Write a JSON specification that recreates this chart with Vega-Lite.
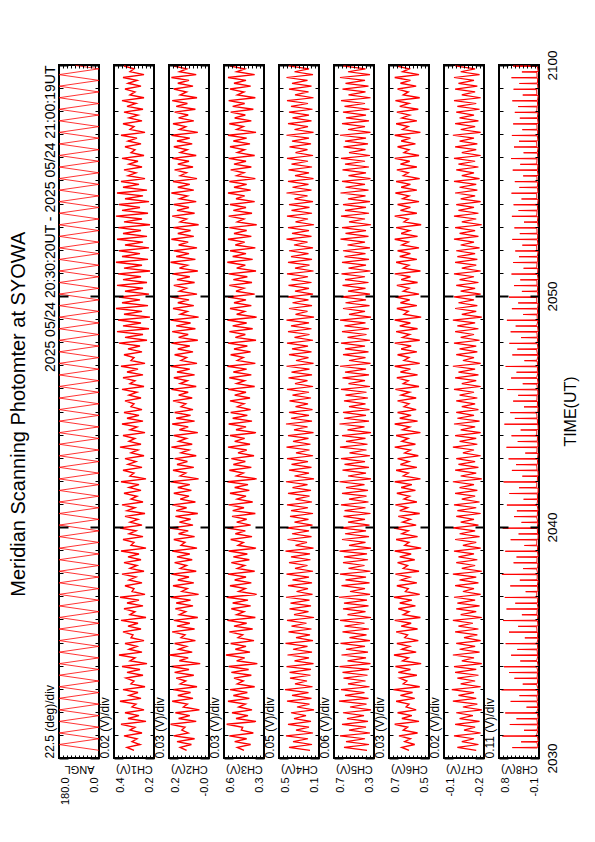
{
"$schema":"https://vega.github.io/schema/vega-lite/v6.json",
"background":"white",
"padding":{"left":8,"top":48,"right":5,"bottom":5},
"title":{"text":"Meridian Scanning Photomter at SYOWA","orient":"left","anchor":"middle","fontSize":20,"fontWeight":"normal","font":"Liberation Sans","color":"black","offset":13,"dx":13},
"config":{"view":{"stroke":"black","strokeWidth":2},"font":"Liberation Sans","axis":{"grid":false,"domain":false,"tickColor":"black","labelColor":"black","titleColor":"black","titleFontWeight":"normal","labelFont":"Liberation Sans","titleFont":"Liberation Sans"}},
"datasets":{
"ang":[{"t":20,"v":0},{"t":35,"v":180},{"t":50,"v":0},{"t":65,"v":180},{"t":80,"v":0},{"t":95,"v":180},{"t":110,"v":0},{"t":125,"v":180},{"t":140,"v":0},{"t":155,"v":180},{"t":170,"v":0},{"t":185,"v":180},{"t":200,"v":0},{"t":215,"v":180},{"t":230,"v":0},{"t":245,"v":180},{"t":260,"v":0},{"t":275,"v":180},{"t":290,"v":0},{"t":305,"v":180},{"t":320,"v":0},{"t":335,"v":180},{"t":350,"v":0},{"t":365,"v":180},{"t":380,"v":0},{"t":395,"v":180},{"t":410,"v":0},{"t":425,"v":180},{"t":440,"v":0},{"t":455,"v":180},{"t":470,"v":0},{"t":485,"v":180},{"t":500,"v":0},{"t":515,"v":180},{"t":530,"v":0},{"t":545,"v":180},{"t":560,"v":0},{"t":575,"v":180},{"t":590,"v":0},{"t":605,"v":180},{"t":620,"v":0},{"t":635,"v":180},{"t":650,"v":0},{"t":665,"v":180},{"t":680,"v":0},{"t":695,"v":180},{"t":710,"v":0},{"t":725,"v":180},{"t":740,"v":0},{"t":755,"v":180},{"t":770,"v":0},{"t":785,"v":180},{"t":800,"v":0},{"t":815,"v":180},{"t":830,"v":0},{"t":845,"v":180},{"t":860,"v":0},{"t":875,"v":180},{"t":890,"v":0},{"t":905,"v":180},{"t":920,"v":0},{"t":935,"v":180},{"t":950,"v":0},{"t":965,"v":180},{"t":980,"v":0},{"t":995,"v":180},{"t":1010,"v":0},{"t":1025,"v":180},{"t":1040,"v":0},{"t":1055,"v":180},{"t":1070,"v":0},{"t":1085,"v":180},{"t":1100,"v":0},{"t":1115,"v":180},{"t":1130,"v":0},{"t":1145,"v":180},{"t":1160,"v":0},{"t":1175,"v":180},{"t":1190,"v":0},{"t":1205,"v":180},{"t":1220,"v":0},{"t":1235,"v":180},{"t":1250,"v":0},{"t":1265,"v":180},{"t":1280,"v":0},{"t":1295,"v":180},{"t":1310,"v":0},{"t":1325,"v":180},{"t":1340,"v":0},{"t":1355,"v":180},{"t":1370,"v":0},{"t":1385,"v":180},{"t":1400,"v":0},{"t":1415,"v":180},{"t":1430,"v":0},{"t":1445,"v":180},{"t":1460,"v":0},{"t":1475,"v":180},{"t":1490,"v":0},{"t":1505,"v":180},{"t":1520,"v":0},{"t":1535,"v":180},{"t":1550,"v":0},{"t":1565,"v":180},{"t":1580,"v":0},{"t":1595,"v":180},{"t":1610,"v":0},{"t":1625,"v":180},{"t":1640,"v":0},{"t":1655,"v":180},{"t":1670,"v":0},{"t":1685,"v":180},{"t":1700,"v":0},{"t":1715,"v":180},{"t":1730,"v":0},{"t":1745,"v":180},{"t":1760,"v":0},{"t":1775,"v":180},{"t":1790,"v":0},{"t":1799,"v":108}],
"c8":[{"t":26,"h":-80},{"t":27,"h":520},{"t":28,"h":-95},{"t":41,"h":-70},{"t":42,"h":310},{"t":43,"h":-100},{"t":56,"h":-85},{"t":57,"h":760},{"t":58,"h":-60},{"t":71,"h":-90},{"t":72,"h":240},{"t":73,"h":-75},{"t":86,"h":-95},{"t":87,"h":580},{"t":88,"h":-85},{"t":101,"h":-70},{"t":102,"h":420},{"t":103,"h":-100},{"t":116,"h":-80},{"t":117,"h":690},{"t":118,"h":-65},{"t":131,"h":-100},{"t":132,"h":180},{"t":133,"h":-90},{"t":146,"h":-75},{"t":147,"h":560},{"t":148,"h":-85},{"t":161,"h":-70},{"t":162,"h":350},{"t":163,"h":-95},{"t":176,"h":-80},{"t":177,"h":780},{"t":178,"h":-100},{"t":191,"h":-65},{"t":192,"h":270},{"t":193,"h":-80},{"t":206,"h":-90},{"t":207,"h":470},{"t":208,"h":-75},{"t":221,"h":-85},{"t":222,"h":600},{"t":223,"h":-95},{"t":236,"h":-70},{"t":237,"h":720},{"t":238,"h":-100},{"t":251,"h":-80},{"t":252,"h":330},{"t":253,"h":-65},{"t":266,"h":-95},{"t":267,"h":550},{"t":268,"h":-85},{"t":281,"h":-75},{"t":282,"h":400},{"t":283,"h":-90},{"t":296,"h":-80},{"t":297,"h":680},{"t":298,"h":-70},{"t":311,"h":-100},{"t":312,"h":220},{"t":313,"h":-85},{"t":326,"h":-90},{"t":327,"h":600},{"t":328,"h":-75},{"t":341,"h":-65},{"t":342,"h":380},{"t":343,"h":-95},{"t":356,"h":-85},{"t":357,"h":740},{"t":358,"h":-80},{"t":371,"h":-95},{"t":372,"h":290},{"t":373,"h":-70},{"t":386,"h":-80},{"t":387,"h":660},{"t":388,"h":-100},{"t":401,"h":-75},{"t":402,"h":450},{"t":403,"h":-85},{"t":416,"h":-90},{"t":417,"h":700},{"t":418,"h":-65},{"t":431,"h":-70},{"t":432,"h":200},{"t":433,"h":-95},{"t":446,"h":-85},{"t":447,"h":570},{"t":448,"h":-80},{"t":461,"h":-100},{"t":462,"h":340},{"t":463,"h":-75},{"t":476,"h":-80},{"t":477,"h":770},{"t":478,"h":-90},{"t":491,"h":-65},{"t":492,"h":260},{"t":493,"h":-85},{"t":506,"h":-95},{"t":507,"h":490},{"t":508,"h":-70},{"t":521,"h":-75},{"t":522,"h":420},{"t":523,"h":-100},{"t":536,"h":-85},{"t":537,"h":690},{"t":538,"h":-80},{"t":551,"h":-90},{"t":552,"h":230},{"t":553,"h":-65},{"t":566,"h":-70},{"t":567,"h":560},{"t":568,"h":-95},{"t":581,"h":-100},{"t":582,"h":370},{"t":583,"h":-85},{"t":596,"h":-80},{"t":597,"h":750},{"t":598,"h":-75},{"t":611,"h":-95},{"t":612,"h":300},{"t":613,"h":-90},{"t":626,"h":-65},{"t":627,"h":480},{"t":628,"h":-80},{"t":641,"h":-85},{"t":642,"h":410},{"t":643,"h":-100},{"t":656,"h":-75},{"t":657,"h":650},{"t":658,"h":-70},{"t":671,"h":-90},{"t":672,"h":250},{"t":673,"h":-85},{"t":686,"h":-80},{"t":687,"h":590},{"t":688,"h":-95},{"t":701,"h":-100},{"t":702,"h":360},{"t":703,"h":-65},{"t":716,"h":-70},{"t":717,"h":730},{"t":718,"h":-80},{"t":731,"h":-85},{"t":732,"h":280},{"t":733,"h":-100},{"t":746,"h":-95},{"t":747,"h":530},{"t":748,"h":-75},{"t":761,"h":-65},{"t":762,"h":430},{"t":763,"h":-90},{"t":776,"h":-80},{"t":777,"h":610},{"t":778,"h":-85},{"t":791,"h":-100},{"t":792,"h":210},{"t":793,"h":-70},{"t":806,"h":-75},{"t":807,"h":660},{"t":808,"h":-95},{"t":821,"h":-90},{"t":822,"h":390},{"t":823,"h":-80},{"t":836,"h":-85},{"t":837,"h":540},{"t":838,"h":-65},{"t":851,"h":-70},{"t":852,"h":320},{"t":853,"h":-100},{"t":866,"h":-95},{"t":867,"h":710},{"t":868,"h":-85},{"t":881,"h":-80},{"t":882,"h":460},{"t":883,"h":-75},{"t":896,"h":-65},{"t":897,"h":570},{"t":898,"h":-90},{"t":911,"h":-100},{"t":912,"h":240},{"t":913,"h":-80},{"t":926,"h":-85},{"t":927,"h":500},{"t":928,"h":-70},{"t":941,"h":-75},{"t":942,"h":380},{"t":943,"h":-95},{"t":956,"h":-90},{"t":957,"h":640},{"t":958,"h":-85},{"t":971,"h":-70},{"t":972,"h":270},{"t":973,"h":-100},{"t":986,"h":-80},{"t":987,"h":550},{"t":988,"h":-65},{"t":1001,"h":-95},{"t":1002,"h":420},{"t":1003,"h":-80},{"t":1016,"h":-85},{"t":1017,"h":680},{"t":1018,"h":-90},{"t":1031,"h":-75},{"t":1032,"h":230},{"t":1033,"h":-70},{"t":1046,"h":-100},{"t":1047,"h":520},{"t":1048,"h":-85},{"t":1061,"h":-65},{"t":1062,"h":400},{"t":1063,"h":-95},{"t":1076,"h":-80},{"t":1077,"h":590},{"t":1078,"h":-75},{"t":1091,"h":-90},{"t":1092,"h":310},{"t":1093,"h":-80},{"t":1106,"h":-70},{"t":1107,"h":560},{"t":1108,"h":-100},{"t":1121,"h":-85},{"t":1122,"h":440},{"t":1123,"h":-65},{"t":1136,"h":-95},{"t":1137,"h":650},{"t":1138,"h":-80},{"t":1151,"h":-75},{"t":1152,"h":260},{"t":1153,"h":-90},{"t":1166,"h":-80},{"t":1167,"h":530},{"t":1168,"h":-85},{"t":1181,"h":-100},{"t":1182,"h":380},{"t":1183,"h":-70},{"t":1196,"h":-65},{"t":1197,"h":600},{"t":1198,"h":-95},{"t":1211,"h":-85},{"t":1212,"h":290},{"t":1213,"h":-80},{"t":1226,"h":-90},{"t":1227,"h":480},{"t":1228,"h":-75},{"t":1241,"h":-70},{"t":1242,"h":330},{"t":1243,"h":-100},{"t":1256,"h":-80},{"t":1257,"h":540},{"t":1258,"h":-85},{"t":1271,"h":-95},{"t":1272,"h":250},{"t":1273,"h":-65},{"t":1286,"h":-75},{"t":1287,"h":500},{"t":1288,"h":-90},{"t":1301,"h":-85},{"t":1302,"h":360},{"t":1303,"h":-80},{"t":1316,"h":-100},{"t":1317,"h":450},{"t":1318,"h":-70},{"t":1331,"h":-65},{"t":1332,"h":280},{"t":1333,"h":-95},{"t":1346,"h":-80},{"t":1347,"h":520},{"t":1348,"h":-85},{"t":1361,"h":-90},{"t":1362,"h":340},{"t":1363,"h":-75},{"t":1376,"h":-70},{"t":1377,"h":470},{"t":1378,"h":-100},{"t":1391,"h":-85},{"t":1392,"h":240},{"t":1393,"h":-80},{"t":1406,"h":-95},{"t":1407,"h":530},{"t":1408,"h":-65},{"t":1421,"h":-75},{"t":1422,"h":370},{"t":1423,"h":-90},{"t":1436,"h":-80},{"t":1437,"h":490},{"t":1438,"h":-85},{"t":1451,"h":-100},{"t":1452,"h":300},{"t":1453,"h":-70},{"t":1466,"h":-65},{"t":1467,"h":540},{"t":1468,"h":-95},{"t":1481,"h":-85},{"t":1482,"h":350},{"t":1483,"h":-80},{"t":1496,"h":-90},{"t":1497,"h":460},{"t":1498,"h":-75},{"t":1511,"h":-70},{"t":1512,"h":260},{"t":1513,"h":-100},{"t":1526,"h":-80},{"t":1527,"h":510},{"t":1528,"h":-85},{"t":1541,"h":-95},{"t":1542,"h":330},{"t":1543,"h":-65},{"t":1556,"h":-75},{"t":1557,"h":550},{"t":1558,"h":-90},{"t":1571,"h":-85},{"t":1572,"h":250},{"t":1573,"h":-80},{"t":1586,"h":-100},{"t":1587,"h":480},{"t":1588,"h":-70},{"t":1601,"h":-65},{"t":1602,"h":360},{"t":1603,"h":-95},{"t":1616,"h":-80},{"t":1617,"h":530},{"t":1618,"h":-85},{"t":1631,"h":-90},{"t":1632,"h":280},{"t":1633,"h":-75},{"t":1646,"h":-70},{"t":1647,"h":500},{"t":1648,"h":-100},{"t":1661,"h":-85},{"t":1662,"h":340},{"t":1663,"h":-80},{"t":1676,"h":-95},{"t":1677,"h":460},{"t":1678,"h":-65},{"t":1691,"h":-75},{"t":1692,"h":380},{"t":1693,"h":-90},{"t":1706,"h":-80},{"t":1707,"h":520},{"t":1708,"h":-85},{"t":1721,"h":-100},{"t":1722,"h":270},{"t":1723,"h":-70},{"t":1736,"h":-65},{"t":1737,"h":490},{"t":1738,"h":-95},{"t":1751,"h":-85},{"t":1752,"h":350},{"t":1753,"h":-80},{"t":1766,"h":-90},{"t":1767,"h":540},{"t":1768,"h":-75},{"t":1781,"h":-70},{"t":1782,"h":290},{"t":1783,"h":-100},{"t":1796,"h":-80},{"t":1797,"h":500},{"t":1798,"h":-85}],
"ch":[
{"t":20,"a":300,"b":120,"c":450,"d":190,"e":370,"f":600,"g":-205},
{"t":27.5,"a":335,"b":160,"c":500,"d":400,"e":600,"f":650,"g":-120},
{"t":35,"a":270,"b":90,"c":400,"d":170,"e":350,"f":560,"g":-215},
{"t":42.5,"a":310,"b":180,"c":520,"d":360,"e":580,"f":630,"g":-140},
{"t":50,"a":285,"b":70,"c":430,"d":210,"e":390,"f":590,"g":-195},
{"t":57.5,"a":350,"b":200,"c":560,"d":430,"e":640,"f":670,"g":-105},
{"t":65,"a":260,"b":110,"c":380,"d":160,"e":340,"f":540,"g":-225},
{"t":72.5,"a":320,"b":150,"c":470,"d":330,"e":550,"f":640,"g":-150},
{"t":80,"a":295,"b":130,"c":460,"d":200,"e":380,"f":610,"g":-200},
{"t":87.5,"a":365,"b":220,"c":580,"d":410,"e":620,"f":700,"g":-110},
{"t":95,"a":240,"b":60,"c":360,"d":180,"e":360,"f":530,"g":-220},
{"t":102.5,"a":330,"b":170,"c":510,"d":350,"e":570,"f":650,"g":-130},
{"t":110,"a":275,"b":100,"c":420,"d":230,"e":400,"f":580,"g":-190},
{"t":117.5,"a":345,"b":190,"c":540,"d":380,"e":610,"f":680,"g":-115},
{"t":125,"a":250,"b":40,"c":390,"d":150,"e":330,"f":550,"g":-230},
{"t":132.5,"a":310,"b":140,"c":490,"d":320,"e":540,"f":620,"g":-145},
{"t":140,"a":290,"b":115,"c":440,"d":195,"e":375,"f":600,"g":-210},
{"t":147.5,"a":370,"b":210,"c":570,"d":420,"e":650,"f":690,"g":-100},
{"t":155,"a":265,"b":80,"c":410,"d":175,"e":355,"f":560,"g":-205},
{"t":162.5,"a":325,"b":175,"c":530,"d":370,"e":590,"f":660,"g":-125},
{"t":170,"a":280,"b":95,"c":425,"d":205,"e":395,"f":575,"g":-195},
{"t":177.5,"a":355,"b":205,"c":555,"d":440,"e":630,"f":710,"g":-95},
{"t":185,"a":245,"b":55,"c":370,"d":165,"e":345,"f":525,"g":-225},
{"t":192.5,"a":315,"b":160,"c":500,"d":340,"e":560,"f":640,"g":-135},
{"t":200,"a":300,"b":125,"c":455,"d":220,"e":385,"f":615,"g":-200},
{"t":207.5,"a":340,"b":185,"c":525,"d":390,"e":605,"f":665,"g":-120},
{"t":215,"a":255,"b":75,"c":395,"d":185,"e":365,"f":545,"g":-215},
{"t":222.5,"a":335,"b":195,"c":545,"d":395,"e":615,"f":675,"g":-110},
{"t":230,"a":270,"b":105,"c":415,"d":180,"e":350,"f":590,"g":-205},
{"t":237.5,"a":360,"b":215,"c":565,"d":425,"e":645,"f":695,"g":-105},
{"t":245,"a":235,"b":35,"c":350,"d":155,"e":335,"f":515,"g":-230},
{"t":252.5,"a":320,"b":165,"c":505,"d":345,"e":565,"f":645,"g":-140},
{"t":260,"a":295,"b":110,"c":445,"d":200,"e":380,"f":605,"g":-195},
{"t":267.5,"a":375,"b":225,"c":585,"d":415,"e":625,"f":705,"g":-100},
{"t":275,"a":260,"b":85,"c":405,"d":170,"e":360,"f":550,"g":-220},
{"t":282.5,"a":325,"b":170,"c":515,"d":360,"e":580,"f":650,"g":-130},
{"t":290,"a":285,"b":120,"c":435,"d":215,"e":390,"f":595,"g":-200},
{"t":297.5,"a":345,"b":195,"c":550,"d":435,"e":635,"f":685,"g":-115},
{"t":305,"a":250,"b":65,"c":375,"d":160,"e":340,"f":535,"g":-225},
{"t":312.5,"a":315,"b":155,"c":495,"d":330,"e":545,"f":630,"g":-150},
{"t":320,"a":305,"b":130,"c":460,"d":190,"e":375,"f":610,"g":-210},
{"t":327.5,"a":355,"b":210,"c":560,"d":405,"e":615,"f":690,"g":-110},
{"t":335,"a":265,"b":70,"c":385,"d":175,"e":350,"f":540,"g":-215},
{"t":342.5,"a":330,"b":180,"c":525,"d":375,"e":595,"f":655,"g":-125},
{"t":350,"a":280,"b":100,"c":430,"d":225,"e":395,"f":585,"g":-190},
{"t":357.5,"a":365,"b":200,"c":575,"d":420,"e":640,"f":700,"g":-100},
{"t":365,"a":240,"b":50,"c":365,"d":150,"e":330,"f":520,"g":-230},
{"t":372.5,"a":320,"b":165,"c":505,"d":350,"e":565,"f":640,"g":-135},
{"t":380,"a":295,"b":125,"c":450,"d":205,"e":385,"f":600,"g":-205},
{"t":387.5,"a":350,"b":190,"c":545,"d":395,"e":610,"f":675,"g":-115},
{"t":395,"a":255,"b":80,"c":400,"d":180,"e":355,"f":555,"g":-220},
{"t":402.5,"a":335,"b":185,"c":535,"d":385,"e":600,"f":665,"g":-120},
{"t":410,"a":275,"b":95,"c":420,"d":195,"e":370,"f":580,"g":-200},
{"t":417.5,"a":370,"b":220,"c":580,"d":430,"e":650,"f":705,"g":-105},
{"t":425,"a":245,"b":45,"c":355,"d":165,"e":340,"f":525,"g":-225},
{"t":432.5,"a":310,"b":150,"c":490,"d":325,"e":540,"f":625,"g":-145},
{"t":440,"a":300,"b":115,"c":440,"d":210,"e":390,"f":605,"g":-195},
{"t":447.5,"a":345,"b":205,"c":555,"d":410,"e":625,"f":685,"g":-110},
{"t":455,"a":260,"b":75,"c":395,"d":170,"e":345,"f":545,"g":-215},
{"t":462.5,"a":325,"b":175,"c":520,"d":365,"e":585,"f":655,"g":-130},
{"t":470,"a":290,"b":105,"c":435,"d":200,"e":380,"f":595,"g":-205},
{"t":477.5,"a":360,"b":215,"c":570,"d":425,"e":640,"f":695,"g":-100},
{"t":485,"a":250,"b":60,"c":370,"d":160,"e":335,"f":530,"g":-230},
{"t":492.5,"a":320,"b":160,"c":500,"d":340,"e":555,"f":640,"g":-140},
{"t":500,"a":285,"b":120,"c":445,"d":215,"e":395,"f":610,"g":-200},
{"t":507.5,"a":350,"b":195,"c":545,"d":400,"e":610,"f":680,"g":-115},
{"t":515,"a":265,"b":85,"c":410,"d":185,"e":360,"f":560,"g":-210},
{"t":522.5,"a":330,"b":180,"c":530,"d":380,"e":600,"f":665,"g":-125},
{"t":530,"a":275,"b":100,"c":425,"d":190,"e":370,"f":585,"g":-195},
{"t":537.5,"a":365,"b":210,"c":565,"d":435,"e":645,"f":700,"g":-105},
{"t":545,"a":240,"b":55,"c":360,"d":155,"e":330,"f":515,"g":-225},
{"t":552.5,"a":315,"b":155,"c":495,"d":335,"e":550,"f":630,"g":-145},
{"t":560,"a":300,"b":130,"c":455,"d":220,"e":385,"f":600,"g":-205},
{"t":567.5,"a":355,"b":200,"c":550,"d":415,"e":620,"f":690,"g":-110},
{"t":575,"a":255,"b":70,"c":390,"d":175,"e":350,"f":540,"g":-220},
{"t":582.5,"a":325,"b":170,"c":515,"d":370,"e":590,"f":650,"g":-130},
{"t":590,"a":290,"b":110,"c":440,"d":200,"e":380,"f":605,"g":-200},
{"t":597.5,"a":370,"b":225,"c":575,"d":425,"e":635,"f":705,"g":-100},
{"t":605,"a":260,"b":80,"c":400,"d":165,"e":345,"f":550,"g":-215},
{"t":612.5,"a":320,"b":165,"c":505,"d":345,"e":560,"f":645,"g":-135},
{"t":620,"a":280,"b":95,"c":430,"d":205,"e":390,"f":590,"g":-195},
{"t":627.5,"a":345,"b":190,"c":540,"d":390,"e":605,"f":675,"g":-115},
{"t":635,"a":245,"b":50,"c":365,"d":160,"e":335,"f":525,"g":-225},
{"t":642.5,"a":335,"b":185,"c":535,"d":380,"e":595,"f":665,"g":-120},
{"t":650,"a":295,"b":120,"c":450,"d":210,"e":385,"f":610,"g":-205},
{"t":657.5,"a":360,"b":210,"c":565,"d":420,"e":630,"f":695,"g":-105},
{"t":665,"a":255,"b":65,"c":385,"d":170,"e":355,"f":545,"g":-220},
{"t":672.5,"a":315,"b":160,"c":500,"d":335,"e":550,"f":635,"g":-140},
{"t":680,"a":285,"b":105,"c":435,"d":195,"e":375,"f":595,"g":-200},
{"t":687.5,"a":350,"b":200,"c":555,"d":410,"e":620,"f":685,"g":-110},
{"t":695,"a":265,"b":90,"c":410,"d":180,"e":360,"f":555,"g":-210},
{"t":702.5,"a":325,"b":175,"c":520,"d":365,"e":580,"f":655,"g":-130},
{"t":710,"a":275,"b":100,"c":420,"d":215,"e":395,"f":580,"g":-195},
{"t":717.5,"a":365,"b":220,"c":575,"d":430,"e":645,"f":700,"g":-100},
{"t":725,"a":240,"b":45,"c":355,"d":150,"e":330,"f":520,"g":-230},
{"t":732.5,"a":320,"b":160,"c":505,"d":345,"e":560,"f":640,"g":-135},
{"t":740,"a":300,"b":125,"c":455,"d":200,"e":380,"f":605,"g":-205},
{"t":747.5,"a":355,"b":205,"c":560,"d":400,"e":615,"f":690,"g":-110},
{"t":755,"a":260,"b":75,"c":395,"d":175,"e":350,"f":545,"g":-215},
{"t":762.5,"a":330,"b":180,"c":530,"d":375,"e":595,"f":660,"g":-125},
{"t":770,"a":290,"b":115,"c":440,"d":210,"e":390,"f":600,"g":-200},
{"t":777.5,"a":345,"b":195,"c":545,"d":420,"e":630,"f":680,"g":-115},
{"t":785,"a":250,"b":60,"c":375,"d":160,"e":340,"f":535,"g":-225},
{"t":792.5,"a":315,"b":155,"c":495,"d":330,"e":545,"f":630,"g":-145},
{"t":800,"a":280,"b":105,"c":430,"d":195,"e":375,"f":590,"g":-195},
{"t":807.5,"a":370,"b":215,"c":570,"d":425,"e":640,"f":700,"g":-100},
{"t":815,"a":265,"b":85,"c":405,"d":185,"e":365,"f":555,"g":-210},
{"t":822.5,"a":325,"b":170,"c":520,"d":360,"e":580,"f":650,"g":-130},
{"t":830,"a":295,"b":120,"c":445,"d":205,"e":385,"f":605,"g":-205},
{"t":837.5,"a":355,"b":200,"c":555,"d":410,"e":620,"f":690,"g":-110},
{"t":845,"a":245,"b":50,"c":360,"d":155,"e":330,"f":520,"g":-225},
{"t":852.5,"a":320,"b":165,"c":510,"d":350,"e":565,"f":645,"g":-135},
{"t":860,"a":285,"b":110,"c":435,"d":215,"e":395,"f":595,"g":-200},
{"t":867.5,"a":360,"b":210,"c":565,"d":430,"e":645,"f":700,"g":-105},
{"t":875,"a":255,"b":70,"c":390,"d":170,"e":350,"f":540,"g":-220},
{"t":882.5,"a":335,"b":185,"c":535,"d":380,"e":600,"f":665,"g":-120},
{"t":890,"a":275,"b":95,"c":425,"d":200,"e":380,"f":585,"g":-195},
{"t":897.5,"a":350,"b":195,"c":550,"d":400,"e":610,"f":680,"g":-115},
{"t":905,"a":260,"b":80,"c":400,"d":165,"e":345,"f":550,"g":-215},
{"t":912.5,"a":315,"b":155,"c":500,"d":335,"e":550,"f":635,"g":-140},
{"t":920,"a":300,"b":125,"c":450,"d":210,"e":385,"f":600,"g":-200},
{"t":927.5,"a":345,"b":205,"c":555,"d":395,"e":600,"f":680,"g":-115},
{"t":935,"a":265,"b":85,"c":405,"d":180,"e":360,"f":550,"g":-210},
{"t":942.5,"a":325,"b":170,"c":520,"d":365,"e":585,"f":655,"g":-130},
{"t":950,"a":285,"b":110,"c":435,"d":200,"e":375,"f":595,"g":-195},
{"t":957.5,"a":360,"b":215,"c":570,"d":420,"e":630,"f":695,"g":-105},
{"t":965,"a":250,"b":60,"c":370,"d":160,"e":340,"f":530,"g":-225},
{"t":972.5,"a":320,"b":160,"c":505,"d":340,"e":555,"f":640,"g":-140},
{"t":980,"a":295,"b":115,"c":445,"d":215,"e":390,"f":605,"g":-205},
{"t":987.5,"a":355,"b":200,"c":560,"d":405,"e":615,"f":685,"g":-110},
{"t":995,"a":255,"b":70,"c":395,"d":170,"e":350,"f":540,"g":-215},
{"t":1002.5,"a":335,"b":180,"c":530,"d":375,"e":590,"f":660,"g":-125},
{"t":1010,"a":280,"b":100,"c":430,"d":195,"e":380,"f":590,"g":-200},
{"t":1017.5,"a":365,"b":220,"c":575,"d":425,"e":640,"f":700,"g":-100},
{"t":1025,"a":245,"b":55,"c":365,"d":155,"e":335,"f":525,"g":-225},
{"t":1032.5,"a":315,"b":155,"c":500,"d":330,"e":550,"f":635,"g":-145},
{"t":1040,"a":300,"b":120,"c":455,"d":205,"e":385,"f":600,"g":-195},
{"t":1047.5,"a":350,"b":195,"c":550,"d":400,"e":610,"f":680,"g":-115},
{"t":1055,"a":260,"b":80,"c":400,"d":175,"e":355,"f":545,"g":-210},
{"t":1062.5,"a":330,"b":175,"c":525,"d":370,"e":590,"f":655,"g":-130},
{"t":1070,"a":270,"b":100,"c":425,"d":210,"e":390,"f":585,"g":-205},
{"t":1077.5,"a":375,"b":215,"c":570,"d":420,"e":630,"f":700,"g":-105},
{"t":1085,"a":235,"b":50,"c":360,"d":160,"e":340,"f":525,"g":-220},
{"t":1092.5,"a":345,"b":170,"c":515,"d":345,"e":565,"f":645,"g":-135},
{"t":1100,"a":255,"b":110,"c":440,"d":195,"e":375,"f":595,"g":-195},
{"t":1107.5,"a":385,"b":210,"c":560,"d":410,"e":620,"f":690,"g":-110},
{"t":1115,"a":225,"b":65,"c":385,"d":175,"e":350,"f":540,"g":-215},
{"t":1122.5,"a":355,"b":185,"c":535,"d":380,"e":595,"f":665,"g":-120},
{"t":1130,"a":265,"b":95,"c":430,"d":200,"e":385,"f":590,"g":-200},
{"t":1137.5,"a":380,"b":220,"c":575,"d":425,"e":640,"f":700,"g":-100},
{"t":1145,"a":220,"b":45,"c":355,"d":150,"e":330,"f":515,"g":-230},
{"t":1152.5,"a":350,"b":160,"c":505,"d":335,"e":550,"f":635,"g":-140},
{"t":1160,"a":260,"b":115,"c":445,"d":215,"e":390,"f":605,"g":-205},
{"t":1167.5,"a":390,"b":205,"c":555,"d":400,"e":610,"f":685,"g":-110},
{"t":1175,"a":230,"b":75,"c":395,"d":170,"e":345,"f":545,"g":-210},
{"t":1182.5,"a":360,"b":175,"c":525,"d":365,"e":585,"f":660,"g":-125},
{"t":1190,"a":270,"b":105,"c":435,"d":205,"e":380,"f":595,"g":-195},
{"t":1197.5,"a":375,"b":215,"c":570,"d":415,"e":630,"f":695,"g":-105},
{"t":1205,"a":225,"b":55,"c":370,"d":160,"e":340,"f":530,"g":-225},
{"t":1212.5,"a":345,"b":165,"c":510,"d":340,"e":560,"f":640,"g":-135},
{"t":1220,"a":255,"b":120,"c":450,"d":200,"e":385,"f":600,"g":-200},
{"t":1227.5,"a":385,"b":200,"c":560,"d":405,"e":615,"f":685,"g":-115},
{"t":1235,"a":235,"b":70,"c":390,"d":175,"e":355,"f":540,"g":-215},
{"t":1242.5,"a":355,"b":180,"c":530,"d":375,"e":590,"f":655,"g":-130},
{"t":1250,"a":265,"b":100,"c":425,"d":210,"e":390,"f":590,"g":-195},
{"t":1257.5,"a":380,"b":210,"c":565,"d":420,"e":625,"f":700,"g":-105},
{"t":1265,"a":220,"b":50,"c":360,"d":155,"e":335,"f":520,"g":-225},
{"t":1272.5,"a":350,"b":165,"c":505,"d":340,"e":555,"f":640,"g":-140},
{"t":1280,"a":260,"b":115,"c":440,"d":195,"e":380,"f":600,"g":-205},
{"t":1287.5,"a":390,"b":220,"c":575,"d":410,"e":620,"f":690,"g":-110},
{"t":1295,"a":230,"b":65,"c":385,"d":170,"e":350,"f":545,"g":-210},
{"t":1302.5,"a":360,"b":185,"c":535,"d":380,"e":595,"f":665,"g":-120},
{"t":1310,"a":270,"b":105,"c":435,"d":205,"e":385,"f":590,"g":-200},
{"t":1317.5,"a":375,"b":200,"c":555,"d":400,"e":610,"f":680,"g":-115},
{"t":1325,"a":225,"b":55,"c":365,"d":160,"e":340,"f":530,"g":-220},
{"t":1332.5,"a":345,"b":170,"c":515,"d":350,"e":565,"f":650,"g":-135},
{"t":1340,"a":255,"b":110,"c":445,"d":215,"e":390,"f":605,"g":-195},
{"t":1347.5,"a":385,"b":215,"c":570,"d":425,"e":635,"f":700,"g":-105},
{"t":1355,"a":235,"b":75,"c":395,"d":175,"e":355,"f":540,"g":-215},
{"t":1362.5,"a":355,"b":175,"c":525,"d":370,"e":585,"f":655,"g":-130},
{"t":1370,"a":265,"b":95,"c":430,"d":200,"e":380,"f":595,"g":-200},
{"t":1377.5,"a":380,"b":205,"c":560,"d":410,"e":620,"f":690,"g":-110},
{"t":1385,"a":220,"b":45,"c":355,"d":150,"e":330,"f":515,"g":-230},
{"t":1392.5,"a":350,"b":160,"c":500,"d":335,"e":550,"f":635,"g":-140},
{"t":1400,"a":260,"b":120,"c":450,"d":210,"e":390,"f":605,"g":-205},
{"t":1407.5,"a":390,"b":210,"c":565,"d":420,"e":630,"f":700,"g":-105},
{"t":1415,"a":230,"b":70,"c":390,"d":170,"e":350,"f":545,"g":-215},
{"t":1422.5,"a":360,"b":180,"c":530,"d":375,"e":590,"f":660,"g":-125},
{"t":1430,"a":270,"b":105,"c":435,"d":195,"e":380,"f":590,"g":-195},
{"t":1437.5,"a":375,"b":200,"c":555,"d":400,"e":610,"f":680,"g":-115},
{"t":1445,"a":225,"b":60,"c":370,"d":160,"e":340,"f":530,"g":-225},
{"t":1452.5,"a":345,"b":165,"c":510,"d":345,"e":560,"f":645,"g":-135},
{"t":1460,"a":255,"b":115,"c":445,"d":215,"e":385,"f":600,"g":-200},
{"t":1467.5,"a":385,"b":215,"c":570,"d":425,"e":635,"f":695,"g":-110},
{"t":1475,"a":235,"b":75,"c":400,"d":175,"e":355,"f":545,"g":-210},
{"t":1482.5,"a":355,"b":175,"c":525,"d":365,"e":585,"f":655,"g":-130},
{"t":1490,"a":275,"b":100,"c":430,"d":205,"e":390,"f":590,"g":-205},
{"t":1497.5,"a":365,"b":205,"c":560,"d":410,"e":620,"f":690,"g":-105},
{"t":1505,"a":245,"b":55,"c":365,"d":155,"e":335,"f":525,"g":-220},
{"t":1512.5,"a":330,"b":160,"c":505,"d":340,"e":555,"f":640,"g":-140},
{"t":1520,"a":290,"b":120,"c":450,"d":200,"e":380,"f":605,"g":-195},
{"t":1527.5,"a":350,"b":195,"c":550,"d":405,"e":615,"f":685,"g":-115},
{"t":1535,"a":260,"b":80,"c":395,"d":170,"e":350,"f":545,"g":-215},
{"t":1542.5,"a":325,"b":175,"c":525,"d":375,"e":590,"f":660,"g":-125},
{"t":1550,"a":280,"b":105,"c":435,"d":210,"e":390,"f":595,"g":-200},
{"t":1557.5,"a":360,"b":210,"c":565,"d":420,"e":630,"f":700,"g":-105},
{"t":1565,"a":250,"b":60,"c":370,"d":160,"e":340,"f":530,"g":-225},
{"t":1572.5,"a":315,"b":160,"c":500,"d":335,"e":550,"f":635,"g":-140},
{"t":1580,"a":295,"b":115,"c":445,"d":215,"e":385,"f":600,"g":-205},
{"t":1587.5,"a":345,"b":200,"c":555,"d":395,"e":605,"f":680,"g":-110},
{"t":1595,"a":265,"b":85,"c":405,"d":180,"e":360,"f":555,"g":-210},
{"t":1602.5,"a":330,"b":180,"c":530,"d":370,"e":590,"f":655,"g":-130},
{"t":1610,"a":285,"b":100,"c":430,"d":200,"e":380,"f":590,"g":-195},
{"t":1617.5,"a":365,"b":215,"c":570,"d":425,"e":640,"f":700,"g":-100},
{"t":1625,"a":245,"b":50,"c":360,"d":155,"e":335,"f":520,"g":-225},
{"t":1632.5,"a":320,"b":165,"c":505,"d":345,"e":560,"f":645,"g":-135},
{"t":1640,"a":300,"b":125,"c":455,"d":210,"e":390,"f":605,"g":-200},
{"t":1647.5,"a":355,"b":205,"c":560,"d":410,"e":620,"f":690,"g":-110},
{"t":1655,"a":260,"b":75,"c":395,"d":175,"e":350,"f":545,"g":-215},
{"t":1662.5,"a":325,"b":170,"c":520,"d":365,"e":580,"f":650,"g":-130},
{"t":1670,"a":280,"b":110,"c":440,"d":200,"e":380,"f":595,"g":-195},
{"t":1677.5,"a":350,"b":195,"c":550,"d":400,"e":610,"f":685,"g":-115},
{"t":1685,"a":255,"b":65,"c":380,"d":165,"e":345,"f":535,"g":-220},
{"t":1692.5,"a":335,"b":185,"c":535,"d":380,"e":595,"f":665,"g":-120},
{"t":1700,"a":290,"b":115,"c":445,"d":210,"e":390,"f":600,"g":-205},
{"t":1707.5,"a":360,"b":210,"c":565,"d":420,"e":630,"f":695,"g":-105},
{"t":1715,"a":250,"b":55,"c":365,"d":155,"e":335,"f":525,"g":-225},
{"t":1722.5,"a":320,"b":160,"c":500,"d":340,"e":555,"f":640,"g":-140},
{"t":1730,"a":295,"b":120,"c":450,"d":205,"e":385,"f":605,"g":-200},
{"t":1737.5,"a":345,"b":200,"c":555,"d":400,"e":615,"f":680,"g":-110},
{"t":1745,"a":265,"b":80,"c":400,"d":175,"e":355,"f":550,"g":-210},
{"t":1752.5,"a":330,"b":175,"c":525,"d":370,"e":585,"f":660,"g":-125},
{"t":1760,"a":285,"b":105,"c":435,"d":215,"e":390,"f":590,"g":-195},
{"t":1767.5,"a":355,"b":215,"c":570,"d":425,"e":640,"f":700,"g":-105},
{"t":1775,"a":250,"b":60,"c":370,"d":160,"e":340,"f":530,"g":-220},
{"t":1782.5,"a":320,"b":165,"c":505,"d":345,"e":560,"f":645,"g":-135},
{"t":1790,"a":300,"b":120,"c":445,"d":200,"e":385,"f":600,"g":-200},
{"t":1797.5,"a":350,"b":200,"c":555,"d":405,"e":615,"f":685,"g":-110}
]},
"spacing":15,
"bounds":"flush",
"hconcat":[
{"width":40,"height":693,"data":{"name":"ang"},
 "layer":[
  {"mark":{"type":"line","color":"#ff0000","strokeWidth":0.8,"clip":true},
   "encoding":{
    "x":{"field":"v","type":"quantitative","scale":{"domain":[0,180],"reverse":true,"nice":false,"zero":false},
     "axis":{"orient":"bottom","values":[0,180],"ticks":false,"labelExpr":"datum.value==180?'180.0':'0.0'","labelAngle":-90,"labelAlign":"right","labelBaseline":{"condition":{"test":"datum.value==180","value":"top"},"value":"bottom"},"labelPadding":19,"labelFontSize":11,"labelOverlap":false,"labelFlush":false,"labelBound":false,"title":"ANGL","titleAngle":180,"titleFontSize":11,"titleY":10,"titleBaseline":"middle","titleAlign":"center"}},
    "y":{"field":"t","type":"quantitative","scale":{"domain":[0,1800],"nice":false,"zero":false},
     "axis":{"orient":"left","values":[0,60,120,180,240,300,360,420,480,540,600,660,720,780,840,900,960,1020,1080,1140,1200,1260,1320,1380,1440,1500,1560,1620,1680,1740,1800],"labels":false,"tickSize":{"condition":{"test":"datum.value%600==0","value":-9},"value":-4},"tickWidth":{"condition":{"test":"datum.value%600==0","value":2},"value":1},"title":"22.5 (deg)/div","titleAnchor":"start","titleFontSize":12,"titlePadding":2,"zindex":1}},
    "order":{"field":"t","type":"quantitative"}}},
  {"mark":{"type":"point","opacity":0},
   "encoding":{
    "x":{"field":"v","type":"quantitative","scale":{"domain":[0,180],"reverse":true,"nice":false,"zero":false},"axis":{"orient":"bottom","values":[0,18,36,54,72,90,108,126,144,162,180],"labels":false,"tickSize":-3,"tickWidth":1,"title":null,"zindex":1}},
    "y":{"field":"t","type":"quantitative","scale":{"domain":[0,1800],"nice":false,"zero":false},"axis":{"orient":"right","values":[0,60,120,180,240,300,360,420,480,540,600,660,720,780,840,900,960,1020,1080,1140,1200,1260,1320,1380,1440,1500,1560,1620,1680,1740,1800],"labels":false,"tickSize":{"condition":{"test":"datum.value%600==0","value":-9},"value":-4},"tickWidth":{"condition":{"test":"datum.value%600==0","value":2},"value":1},"title":null,"zindex":1}}}},
  {"mark":{"type":"point","opacity":0},
   "encoding":{
    "x":{"field":"v","type":"quantitative","scale":{"domain":[0,180],"reverse":true,"nice":false,"zero":false},"axis":{"orient":"top","values":[0,18,36,54,72,90,108,126,144,162,180],"labels":false,"tickSize":-3,"tickWidth":1,"title":null,"zindex":1}},
    "y":{"field":"t","type":"quantitative","scale":{"domain":[0,1800],"nice":false,"zero":false},"axis":{"orient":"left","ticks":false,"labels":false,"title":"2025 05/24 20:30:20UT - 2025 05/24 21:00:19UT","titleAnchor":"end","titleFontSize":14,"titlePadding":2}}}}
 ],
 "resolve":{"axis":{"x":"independent","y":"independent"}}},
{"width":40,"height":693,"data":{"name":"ch"},
 "layer":[
  {"mark":{"type":"line","color":"#ff0000","strokeWidth":1.4,"clip":true},
   "encoding":{
    "x":{"field":"a","type":"quantitative","scale":{"domain":[200,400],"reverse":true,"nice":false,"zero":false},
     "axis":{"orient":"bottom","values":[200,400],"ticks":false,"labelExpr":"datum.value==400?'0.4':'0.2'","labelAngle":-90,"labelAlign":"right","labelBaseline":{"condition":{"test":"datum.value==400","value":"top"},"value":"bottom"},"labelPadding":19,"labelFontSize":11,"labelOverlap":false,"labelFlush":false,"labelBound":false,"title":"CH1(V)","titleAngle":180,"titleFontSize":11,"titleY":10,"titleBaseline":"middle","titleAlign":"center"}},
    "y":{"field":"t","type":"quantitative","scale":{"domain":[0,1800],"nice":false,"zero":false},
     "axis":{"orient":"left","values":[0,60,120,180,240,300,360,420,480,540,600,660,720,780,840,900,960,1020,1080,1140,1200,1260,1320,1380,1440,1500,1560,1620,1680,1740,1800],"labels":false,"tickSize":{"condition":{"test":"datum.value%600==0","value":-9},"value":-4},"tickWidth":{"condition":{"test":"datum.value%600==0","value":2},"value":1},"title":"0.02 (V)/div","titleAnchor":"start","titleFontSize":12,"titlePadding":2,"zindex":1}},
    "order":{"field":"t","type":"quantitative"}}},
  {"mark":{"type":"point","opacity":0},
   "encoding":{
    "x":{"field":"a","type":"quantitative","scale":{"domain":[200,400],"reverse":true,"nice":false,"zero":false},"axis":{"orient":"bottom","values":[200,220,240,260,280,300,320,340,360,380,400],"labels":false,"tickSize":-3,"tickWidth":1,"title":null,"zindex":1}},
    "y":{"field":"t","type":"quantitative","scale":{"domain":[0,1800],"nice":false,"zero":false},"axis":{"orient":"right","values":[0,60,120,180,240,300,360,420,480,540,600,660,720,780,840,900,960,1020,1080,1140,1200,1260,1320,1380,1440,1500,1560,1620,1680,1740,1800],"labels":false,"tickSize":{"condition":{"test":"datum.value%600==0","value":-9},"value":-4},"tickWidth":{"condition":{"test":"datum.value%600==0","value":2},"value":1},"title":null,"zindex":1}}}},
  {"mark":{"type":"point","opacity":0},
   "encoding":{
    "x":{"field":"a","type":"quantitative","scale":{"domain":[200,400],"reverse":true,"nice":false,"zero":false},"axis":{"orient":"top","values":[200,220,240,260,280,300,320,340,360,380,400],"labels":false,"tickSize":-3,"tickWidth":1,"title":null,"zindex":1}},
    "y":{"field":"t","type":"quantitative","scale":{"domain":[0,1800],"nice":false,"zero":false},"axis":null}}}
 ],
 "resolve":{"axis":{"x":"independent","y":"independent"}}},
{"width":40,"height":693,"data":{"name":"ch"},
 "layer":[
  {"mark":{"type":"line","color":"#ff0000","strokeWidth":1.4,"clip":true},
   "encoding":{
    "x":{"field":"b","type":"quantitative","scale":{"domain":[-20,230],"reverse":true,"nice":false,"zero":false},
     "axis":{"orient":"bottom","values":[-20,230],"ticks":false,"labelExpr":"datum.value==230?'0.2':'-0.0'","labelAngle":-90,"labelAlign":"right","labelBaseline":{"condition":{"test":"datum.value==230","value":"top"},"value":"bottom"},"labelPadding":19,"labelFontSize":11,"labelOverlap":false,"labelFlush":false,"labelBound":false,"title":"CH2(V)","titleAngle":180,"titleFontSize":11,"titleY":10,"titleBaseline":"middle","titleAlign":"center"}},
    "y":{"field":"t","type":"quantitative","scale":{"domain":[0,1800],"nice":false,"zero":false},
     "axis":{"orient":"left","values":[0,60,120,180,240,300,360,420,480,540,600,660,720,780,840,900,960,1020,1080,1140,1200,1260,1320,1380,1440,1500,1560,1620,1680,1740,1800],"labels":false,"tickSize":{"condition":{"test":"datum.value%600==0","value":-9},"value":-4},"tickWidth":{"condition":{"test":"datum.value%600==0","value":2},"value":1},"title":"0.03 (V)/div","titleAnchor":"start","titleFontSize":12,"titlePadding":2,"zindex":1}},
    "order":{"field":"t","type":"quantitative"}}},
  {"mark":{"type":"point","opacity":0},
   "encoding":{
    "x":{"field":"b","type":"quantitative","scale":{"domain":[-20,230],"reverse":true,"nice":false,"zero":false},"axis":{"orient":"bottom","values":[-20,5,30,55,80,105,130,155,180,205,230],"labels":false,"tickSize":-3,"tickWidth":1,"title":null,"zindex":1}},
    "y":{"field":"t","type":"quantitative","scale":{"domain":[0,1800],"nice":false,"zero":false},"axis":{"orient":"right","values":[0,60,120,180,240,300,360,420,480,540,600,660,720,780,840,900,960,1020,1080,1140,1200,1260,1320,1380,1440,1500,1560,1620,1680,1740,1800],"labels":false,"tickSize":{"condition":{"test":"datum.value%600==0","value":-9},"value":-4},"tickWidth":{"condition":{"test":"datum.value%600==0","value":2},"value":1},"title":null,"zindex":1}}}},
  {"mark":{"type":"point","opacity":0},
   "encoding":{
    "x":{"field":"b","type":"quantitative","scale":{"domain":[-20,230],"reverse":true,"nice":false,"zero":false},"axis":{"orient":"top","values":[-20,5,30,55,80,105,130,155,180,205,230],"labels":false,"tickSize":-3,"tickWidth":1,"title":null,"zindex":1}},
    "y":{"field":"t","type":"quantitative","scale":{"domain":[0,1800],"nice":false,"zero":false},"axis":null}}}
 ],
 "resolve":{"axis":{"x":"independent","y":"independent"}}},
{"width":40,"height":693,"data":{"name":"ch"},
 "layer":[
  {"mark":{"type":"line","color":"#ff0000","strokeWidth":1.4,"clip":true},
   "encoding":{
    "x":{"field":"c","type":"quantitative","scale":{"domain":[300,600],"reverse":true,"nice":false,"zero":false},
     "axis":{"orient":"bottom","values":[300,600],"ticks":false,"labelExpr":"datum.value==600?'0.6':'0.3'","labelAngle":-90,"labelAlign":"right","labelBaseline":{"condition":{"test":"datum.value==600","value":"top"},"value":"bottom"},"labelPadding":19,"labelFontSize":11,"labelOverlap":false,"labelFlush":false,"labelBound":false,"title":"CH3(V)","titleAngle":180,"titleFontSize":11,"titleY":10,"titleBaseline":"middle","titleAlign":"center"}},
    "y":{"field":"t","type":"quantitative","scale":{"domain":[0,1800],"nice":false,"zero":false},
     "axis":{"orient":"left","values":[0,60,120,180,240,300,360,420,480,540,600,660,720,780,840,900,960,1020,1080,1140,1200,1260,1320,1380,1440,1500,1560,1620,1680,1740,1800],"labels":false,"tickSize":{"condition":{"test":"datum.value%600==0","value":-9},"value":-4},"tickWidth":{"condition":{"test":"datum.value%600==0","value":2},"value":1},"title":"0.03 (V)/div","titleAnchor":"start","titleFontSize":12,"titlePadding":2,"zindex":1}},
    "order":{"field":"t","type":"quantitative"}}},
  {"mark":{"type":"point","opacity":0},
   "encoding":{
    "x":{"field":"c","type":"quantitative","scale":{"domain":[300,600],"reverse":true,"nice":false,"zero":false},"axis":{"orient":"bottom","values":[300,330,360,390,420,450,480,510,540,570,600],"labels":false,"tickSize":-3,"tickWidth":1,"title":null,"zindex":1}},
    "y":{"field":"t","type":"quantitative","scale":{"domain":[0,1800],"nice":false,"zero":false},"axis":{"orient":"right","values":[0,60,120,180,240,300,360,420,480,540,600,660,720,780,840,900,960,1020,1080,1140,1200,1260,1320,1380,1440,1500,1560,1620,1680,1740,1800],"labels":false,"tickSize":{"condition":{"test":"datum.value%600==0","value":-9},"value":-4},"tickWidth":{"condition":{"test":"datum.value%600==0","value":2},"value":1},"title":null,"zindex":1}}}},
  {"mark":{"type":"point","opacity":0},
   "encoding":{
    "x":{"field":"c","type":"quantitative","scale":{"domain":[300,600],"reverse":true,"nice":false,"zero":false},"axis":{"orient":"top","values":[300,330,360,390,420,450,480,510,540,570,600],"labels":false,"tickSize":-3,"tickWidth":1,"title":null,"zindex":1}},
    "y":{"field":"t","type":"quantitative","scale":{"domain":[0,1800],"nice":false,"zero":false},"axis":null}}}
 ],
 "resolve":{"axis":{"x":"independent","y":"independent"}}},
{"width":40,"height":693,"data":{"name":"ch"},
 "layer":[
  {"mark":{"type":"line","color":"#ff0000","strokeWidth":1.2,"clip":true},
   "encoding":{
    "x":{"field":"d","type":"quantitative","scale":{"domain":[100,500],"reverse":true,"nice":false,"zero":false},
     "axis":{"orient":"bottom","values":[100,500],"ticks":false,"labelExpr":"datum.value==500?'0.5':'0.1'","labelAngle":-90,"labelAlign":"right","labelBaseline":{"condition":{"test":"datum.value==500","value":"top"},"value":"bottom"},"labelPadding":19,"labelFontSize":11,"labelOverlap":false,"labelFlush":false,"labelBound":false,"title":"CH4(V)","titleAngle":180,"titleFontSize":11,"titleY":10,"titleBaseline":"middle","titleAlign":"center"}},
    "y":{"field":"t","type":"quantitative","scale":{"domain":[0,1800],"nice":false,"zero":false},
     "axis":{"orient":"left","values":[0,60,120,180,240,300,360,420,480,540,600,660,720,780,840,900,960,1020,1080,1140,1200,1260,1320,1380,1440,1500,1560,1620,1680,1740,1800],"labels":false,"tickSize":{"condition":{"test":"datum.value%600==0","value":-9},"value":-4},"tickWidth":{"condition":{"test":"datum.value%600==0","value":2},"value":1},"title":"0.05 (V)/div","titleAnchor":"start","titleFontSize":12,"titlePadding":2,"zindex":1}},
    "order":{"field":"t","type":"quantitative"}}},
  {"mark":{"type":"point","opacity":0},
   "encoding":{
    "x":{"field":"d","type":"quantitative","scale":{"domain":[100,500],"reverse":true,"nice":false,"zero":false},"axis":{"orient":"bottom","values":[100,140,180,220,260,300,340,380,420,460,500],"labels":false,"tickSize":-3,"tickWidth":1,"title":null,"zindex":1}},
    "y":{"field":"t","type":"quantitative","scale":{"domain":[0,1800],"nice":false,"zero":false},"axis":{"orient":"right","values":[0,60,120,180,240,300,360,420,480,540,600,660,720,780,840,900,960,1020,1080,1140,1200,1260,1320,1380,1440,1500,1560,1620,1680,1740,1800],"labels":false,"tickSize":{"condition":{"test":"datum.value%600==0","value":-9},"value":-4},"tickWidth":{"condition":{"test":"datum.value%600==0","value":2},"value":1},"title":null,"zindex":1}}}},
  {"mark":{"type":"point","opacity":0},
   "encoding":{
    "x":{"field":"d","type":"quantitative","scale":{"domain":[100,500],"reverse":true,"nice":false,"zero":false},"axis":{"orient":"top","values":[100,140,180,220,260,300,340,380,420,460,500],"labels":false,"tickSize":-3,"tickWidth":1,"title":null,"zindex":1}},
    "y":{"field":"t","type":"quantitative","scale":{"domain":[0,1800],"nice":false,"zero":false},"axis":null}}}
 ],
 "resolve":{"axis":{"x":"independent","y":"independent"}}},
{"width":40,"height":693,"data":{"name":"ch"},
 "layer":[
  {"mark":{"type":"line","color":"#ff0000","strokeWidth":1.2,"clip":true},
   "encoding":{
    "x":{"field":"e","type":"quantitative","scale":{"domain":[300,700],"reverse":true,"nice":false,"zero":false},
     "axis":{"orient":"bottom","values":[300,700],"ticks":false,"labelExpr":"datum.value==700?'0.7':'0.3'","labelAngle":-90,"labelAlign":"right","labelBaseline":{"condition":{"test":"datum.value==700","value":"top"},"value":"bottom"},"labelPadding":19,"labelFontSize":11,"labelOverlap":false,"labelFlush":false,"labelBound":false,"title":"CH5(V)","titleAngle":180,"titleFontSize":11,"titleY":10,"titleBaseline":"middle","titleAlign":"center"}},
    "y":{"field":"t","type":"quantitative","scale":{"domain":[0,1800],"nice":false,"zero":false},
     "axis":{"orient":"left","values":[0,60,120,180,240,300,360,420,480,540,600,660,720,780,840,900,960,1020,1080,1140,1200,1260,1320,1380,1440,1500,1560,1620,1680,1740,1800],"labels":false,"tickSize":{"condition":{"test":"datum.value%600==0","value":-9},"value":-4},"tickWidth":{"condition":{"test":"datum.value%600==0","value":2},"value":1},"title":"0.06 (V)/div","titleAnchor":"start","titleFontSize":12,"titlePadding":2,"zindex":1}},
    "order":{"field":"t","type":"quantitative"}}},
  {"mark":{"type":"point","opacity":0},
   "encoding":{
    "x":{"field":"e","type":"quantitative","scale":{"domain":[300,700],"reverse":true,"nice":false,"zero":false},"axis":{"orient":"bottom","values":[300,340,380,420,460,500,540,580,620,660,700],"labels":false,"tickSize":-3,"tickWidth":1,"title":null,"zindex":1}},
    "y":{"field":"t","type":"quantitative","scale":{"domain":[0,1800],"nice":false,"zero":false},"axis":{"orient":"right","values":[0,60,120,180,240,300,360,420,480,540,600,660,720,780,840,900,960,1020,1080,1140,1200,1260,1320,1380,1440,1500,1560,1620,1680,1740,1800],"labels":false,"tickSize":{"condition":{"test":"datum.value%600==0","value":-9},"value":-4},"tickWidth":{"condition":{"test":"datum.value%600==0","value":2},"value":1},"title":null,"zindex":1}}}},
  {"mark":{"type":"point","opacity":0},
   "encoding":{
    "x":{"field":"e","type":"quantitative","scale":{"domain":[300,700],"reverse":true,"nice":false,"zero":false},"axis":{"orient":"top","values":[300,340,380,420,460,500,540,580,620,660,700],"labels":false,"tickSize":-3,"tickWidth":1,"title":null,"zindex":1}},
    "y":{"field":"t","type":"quantitative","scale":{"domain":[0,1800],"nice":false,"zero":false},"axis":null}}}
 ],
 "resolve":{"axis":{"x":"independent","y":"independent"}}},
{"width":40,"height":693,"data":{"name":"ch"},
 "layer":[
  {"mark":{"type":"line","color":"#ff0000","strokeWidth":1.4,"clip":true},
   "encoding":{
    "x":{"field":"f","type":"quantitative","scale":{"domain":[460,740],"reverse":true,"nice":false,"zero":false},
     "axis":{"orient":"bottom","values":[460,740],"ticks":false,"labelExpr":"datum.value==740?'0.7':'0.5'","labelAngle":-90,"labelAlign":"right","labelBaseline":{"condition":{"test":"datum.value==740","value":"top"},"value":"bottom"},"labelPadding":19,"labelFontSize":11,"labelOverlap":false,"labelFlush":false,"labelBound":false,"title":"CH6(V)","titleAngle":180,"titleFontSize":11,"titleY":10,"titleBaseline":"middle","titleAlign":"center"}},
    "y":{"field":"t","type":"quantitative","scale":{"domain":[0,1800],"nice":false,"zero":false},
     "axis":{"orient":"left","values":[0,60,120,180,240,300,360,420,480,540,600,660,720,780,840,900,960,1020,1080,1140,1200,1260,1320,1380,1440,1500,1560,1620,1680,1740,1800],"labels":false,"tickSize":{"condition":{"test":"datum.value%600==0","value":-9},"value":-4},"tickWidth":{"condition":{"test":"datum.value%600==0","value":2},"value":1},"title":"0.03 (V)/div","titleAnchor":"start","titleFontSize":12,"titlePadding":2,"zindex":1}},
    "order":{"field":"t","type":"quantitative"}}},
  {"mark":{"type":"point","opacity":0},
   "encoding":{
    "x":{"field":"f","type":"quantitative","scale":{"domain":[460,740],"reverse":true,"nice":false,"zero":false},"axis":{"orient":"bottom","values":[460,488,516,544,572,600,628,656,684,712,740],"labels":false,"tickSize":-3,"tickWidth":1,"title":null,"zindex":1}},
    "y":{"field":"t","type":"quantitative","scale":{"domain":[0,1800],"nice":false,"zero":false},"axis":{"orient":"right","values":[0,60,120,180,240,300,360,420,480,540,600,660,720,780,840,900,960,1020,1080,1140,1200,1260,1320,1380,1440,1500,1560,1620,1680,1740,1800],"labels":false,"tickSize":{"condition":{"test":"datum.value%600==0","value":-9},"value":-4},"tickWidth":{"condition":{"test":"datum.value%600==0","value":2},"value":1},"title":null,"zindex":1}}}},
  {"mark":{"type":"point","opacity":0},
   "encoding":{
    "x":{"field":"f","type":"quantitative","scale":{"domain":[460,740],"reverse":true,"nice":false,"zero":false},"axis":{"orient":"top","values":[460,488,516,544,572,600,628,656,684,712,740],"labels":false,"tickSize":-3,"tickWidth":1,"title":null,"zindex":1}},
    "y":{"field":"t","type":"quantitative","scale":{"domain":[0,1800],"nice":false,"zero":false},"axis":null}}}
 ],
 "resolve":{"axis":{"x":"independent","y":"independent"}}},
{"width":40,"height":693,"data":{"name":"ch"},
 "layer":[
  {"mark":{"type":"line","color":"#ff0000","strokeWidth":1.2,"clip":true},
   "encoding":{
    "x":{"field":"g","type":"quantitative","scale":{"domain":[-240,-60],"reverse":true,"nice":false,"zero":false},
     "axis":{"orient":"bottom","values":[-240,-60],"ticks":false,"labelExpr":"datum.value==-60?'-0.1':'-0.2'","labelAngle":-90,"labelAlign":"right","labelBaseline":{"condition":{"test":"datum.value==-60","value":"top"},"value":"bottom"},"labelPadding":19,"labelFontSize":11,"labelOverlap":false,"labelFlush":false,"labelBound":false,"title":"CH7(V)","titleAngle":180,"titleFontSize":11,"titleY":10,"titleBaseline":"middle","titleAlign":"center"}},
    "y":{"field":"t","type":"quantitative","scale":{"domain":[0,1800],"nice":false,"zero":false},
     "axis":{"orient":"left","values":[0,60,120,180,240,300,360,420,480,540,600,660,720,780,840,900,960,1020,1080,1140,1200,1260,1320,1380,1440,1500,1560,1620,1680,1740,1800],"labels":false,"tickSize":{"condition":{"test":"datum.value%600==0","value":-9},"value":-4},"tickWidth":{"condition":{"test":"datum.value%600==0","value":2},"value":1},"title":"0.02 (V)/div","titleAnchor":"start","titleFontSize":12,"titlePadding":2,"zindex":1}},
    "order":{"field":"t","type":"quantitative"}}},
  {"mark":{"type":"point","opacity":0},
   "encoding":{
    "x":{"field":"g","type":"quantitative","scale":{"domain":[-240,-60],"reverse":true,"nice":false,"zero":false},"axis":{"orient":"bottom","values":[-240,-222,-204,-186,-168,-150,-132,-114,-96,-78,-60],"labels":false,"tickSize":-3,"tickWidth":1,"title":null,"zindex":1}},
    "y":{"field":"t","type":"quantitative","scale":{"domain":[0,1800],"nice":false,"zero":false},"axis":{"orient":"right","values":[0,60,120,180,240,300,360,420,480,540,600,660,720,780,840,900,960,1020,1080,1140,1200,1260,1320,1380,1440,1500,1560,1620,1680,1740,1800],"labels":false,"tickSize":{"condition":{"test":"datum.value%600==0","value":-9},"value":-4},"tickWidth":{"condition":{"test":"datum.value%600==0","value":2},"value":1},"title":null,"zindex":1}}}},
  {"mark":{"type":"point","opacity":0},
   "encoding":{
    "x":{"field":"g","type":"quantitative","scale":{"domain":[-240,-60],"reverse":true,"nice":false,"zero":false},"axis":{"orient":"top","values":[-240,-222,-204,-186,-168,-150,-132,-114,-96,-78,-60],"labels":false,"tickSize":-3,"tickWidth":1,"title":null,"zindex":1}},
    "y":{"field":"t","type":"quantitative","scale":{"domain":[0,1800],"nice":false,"zero":false},"axis":null}}}
 ],
 "resolve":{"axis":{"x":"independent","y":"independent"}}},
{"width":40,"height":693,"data":{"name":"c8"},
 "layer":[
  {"mark":{"type":"line","color":"#ff0000","strokeWidth":1,"clip":true},
   "encoding":{
    "x":{"field":"h","type":"quantitative","scale":{"domain":[-120,840],"reverse":true,"nice":false,"zero":false},
     "axis":{"orient":"bottom","values":[-120,840],"ticks":false,"labelExpr":"datum.value==840?'0.8':'-0.1'","labelAngle":-90,"labelAlign":"right","labelBaseline":{"condition":{"test":"datum.value==840","value":"top"},"value":"bottom"},"labelPadding":19,"labelFontSize":11,"labelOverlap":false,"labelFlush":false,"labelBound":false,"title":"CH8(V)","titleAngle":180,"titleFontSize":11,"titleY":10,"titleBaseline":"middle","titleAlign":"center"}},
    "y":{"field":"t","type":"quantitative","scale":{"domain":[0,1800],"nice":false,"zero":false},
     "axis":{"orient":"left","values":[0,60,120,180,240,300,360,420,480,540,600,660,720,780,840,900,960,1020,1080,1140,1200,1260,1320,1380,1440,1500,1560,1620,1680,1740,1800],"labels":false,"tickSize":{"condition":{"test":"datum.value%600==0","value":-9},"value":-4},"tickWidth":{"condition":{"test":"datum.value%600==0","value":2},"value":1},"title":"0.11 (V)/div","titleAnchor":"start","titleFontSize":12,"titlePadding":2,"zindex":1}},
    "order":{"field":"t","type":"quantitative"}}},
  {"mark":{"type":"point","opacity":0},
   "encoding":{
    "x":{"field":"h","type":"quantitative","scale":{"domain":[-120,840],"reverse":true,"nice":false,"zero":false},"axis":{"orient":"bottom","values":[-120,-24,72,168,264,360,456,552,648,744,840],"labels":false,"tickSize":-3,"tickWidth":1,"title":null,"zindex":1}},
    "y":{"field":"t","type":"quantitative","scale":{"domain":[0,1800],"nice":false,"zero":false},"axis":{"orient":"right","values":[0,60,120,180,240,300,360,420,480,540,600,660,720,780,840,900,960,1020,1080,1140,1200,1260,1320,1380,1440,1500,1560,1620,1680,1740,1800],"labels":false,"tickSize":{"condition":{"test":"datum.value%600==0","value":-9},"value":-4},"tickWidth":{"condition":{"test":"datum.value%600==0","value":2},"value":1},"title":null,"zindex":1}}}},
  {"mark":{"type":"point","opacity":0},
   "encoding":{
    "x":{"field":"h","type":"quantitative","scale":{"domain":[-120,840],"reverse":true,"nice":false,"zero":false},"axis":{"orient":"top","values":[-120,-24,72,168,264,360,456,552,648,744,840],"labels":false,"tickSize":-3,"tickWidth":1,"title":null,"zindex":1}},
    "y":{"field":"t","type":"quantitative","scale":{"domain":[0,1800],"nice":false,"zero":false},"axis":{"orient":"right","values":[0,600,1200,1800],"ticks":false,"labelExpr":"datum.value==0?'2030':datum.value==600?'2040':datum.value==1200?'2050':'2100'","labelAngle":-90,"labelAlign":"center","labelBaseline":"top","labelPadding":6,"labelFontSize":13.5,"labelOverlap":false,"labelFlush":false,"labelBound":false,"title":"TIME(UT)","titleAngle":-90,"titleFontSize":16,"titleX":23,"titleY":346,"titleAlign":"center","titleBaseline":"top"}}}}
 ],
 "resolve":{"axis":{"x":"independent","y":"independent"}}}
]
}
